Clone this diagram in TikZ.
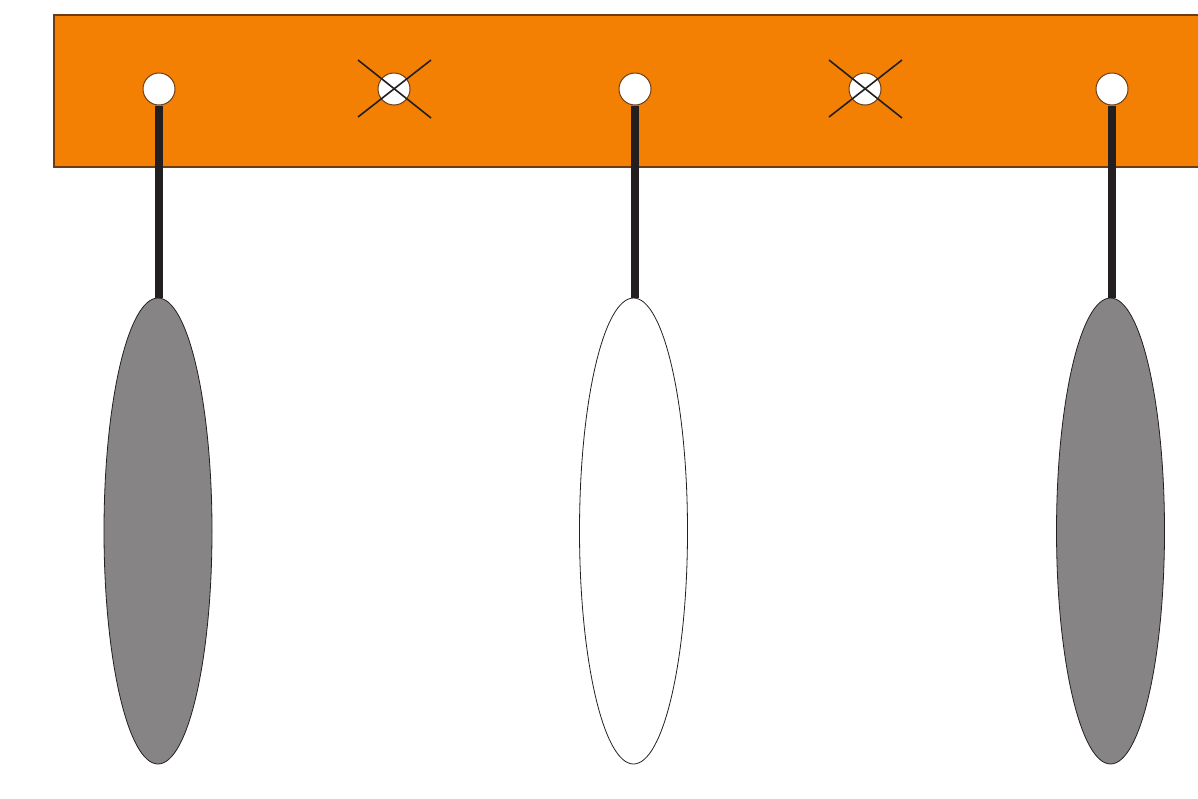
\documentclass[tikz,border=0pt]{standalone}
\usetikzlibrary{shapes.geometric}
\definecolor{barorange}{RGB}{243,128,3}
\definecolor{baredge}{RGB}{110,60,20}
\definecolor{rodblack}{RGB}{35,31,32}
\definecolor{weightgray}{RGB}{134,132,133}
\tikzset{
    hole/.style={circle,draw=baredge,line width=0.5pt,fill=white,inner sep=0pt,minimum size=16pt},
    weight/.style={ellipse,draw=rodblack,line width=0.4pt,inner sep=0pt,minimum width=54pt,minimum height=233pt},
    rod/.style={draw=rodblack,line width=4pt},
    cross/.style={draw=rodblack,line width=0.8pt}
}
\begin{document}
\begin{tikzpicture}[x=0.5pt,y=-0.5pt]
    \useasboundingbox (0,0) rectangle (1198,798);

    % bar
    \fill[barorange] (54,15) rectangle (1198,167);
    \draw[baredge,line width=0.7pt] (1198,15) -- (54,15) -- (54,167) -- (1198,167);

    \node[hole] (H1) at (159,89) {};
    \node[hole] (H2) at (394,89) {};
    \node[hole] (H3) at (635,89) {};
    \node[hole] (H4) at (865,89) {};
    \node[hole] (H5) at (1112,89) {};

    \node[weight,fill=weightgray] (W1) at (158,531) {};
    \node[weight,fill=white] (W2) at (633.5,531) {};
    \node[weight,fill=weightgray] (W3) at (1110.5,531) {};

    \draw[rod] (H1.south) -- (W1.north -| H1.south);
    \draw[rod] (H3.south) -- (W2.north -| H3.south);
    \draw[rod] (H5.south) -- (W3.north -| H5.south);

    % crossed out holes
    \draw[cross] ([shift={(-36,-29)}]H2.center) -- ([shift={(37,29)}]H2.center);
    \draw[cross] ([shift={(-36,28)}]H2.center) -- ([shift={(37,-29)}]H2.center);
    \draw[cross] ([shift={(-36,-29)}]H4.center) -- ([shift={(37,29)}]H4.center);
    \draw[cross] ([shift={(-36,28)}]H4.center) -- ([shift={(37,-29)}]H4.center);

\end{tikzpicture}
\end{document}
